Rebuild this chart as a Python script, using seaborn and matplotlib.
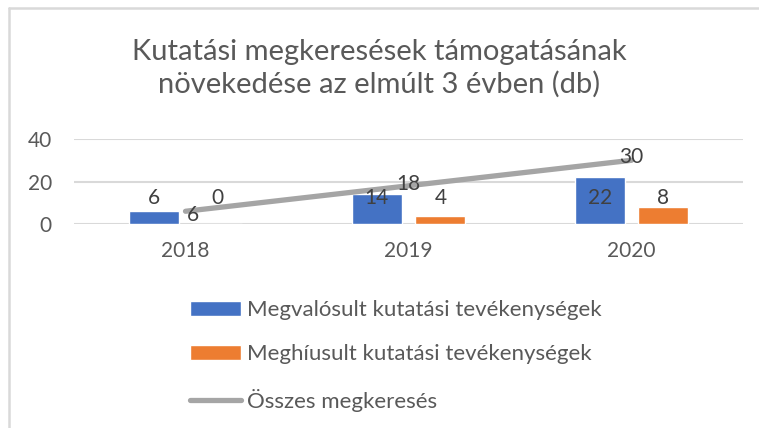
import numpy as np
import pandas as pd
import matplotlib
matplotlib.use('Agg')
import matplotlib.pyplot as plt
import seaborn as sns

# adatok
years = ['2018', '2019', '2020']
megvalosult = [6, 14, 22]
meghiusult = [0, 4, 8]
osszes = [6, 18, 30]
series_names = ['Megvalósult kutatási tevékenységek', 'Meghíusult kutatási tevékenységek']
line_name = 'Összes megkeresés'
title = 'Kutatási megkeresések támogatásának\nnövekedése az elmúlt 3 évben (db)'

df = pd.DataFrame({
    'ev': years * 2,
    'db': megvalosult + meghiusult,
    'sorozat': [series_names[0]] * 3 + [series_names[1]] * 3,
})

sns.set_style('white')
plt.rcParams['font.family'] = ['Lato', 'DejaVu Sans']
txt = '#595959'

fig = plt.figure(figsize=(7.59, 4.28), dpi=100)
ax = fig.add_axes([0.0975, 0.4766, 0.8815, 0.1986])

sns.barplot(data=df, x='ev', y='db', hue='sorozat', palette=['#4472C4', '#ED7D31'],
            width=0.572, gap=0.217, saturation=1, errorbar=None, ax=ax, legend=False)
sns.lineplot(x=np.arange(len(years)), y=osszes, color='#A5A5A5', lw=3.8,
             ax=ax, label=line_name, legend=False)

ax.set_xlim(-0.5, 2.5)
ax.set_ylim(0, 40)
ax.set_yticks([0, 20, 40])
ax.set_xlabel('')
ax.set_ylabel('')
ax.grid(axis='y', color='#D9D9D9', lw=1.5)
ax.set_axisbelow(True)
for s in ax.spines.values():
    s.set_visible(False)
ax.tick_params(axis='y', length=0, pad=16, labelsize=15, labelcolor=txt)
ax.tick_params(axis='x', length=0, pad=12, labelsize=15, labelcolor=txt)

# oszlop feliratok (egy magasságban, mint az eredetin)
for cont in ax.containers:
    for rect, v in zip(cont, cont.datavalues):
        ax.text(rect.get_x() + rect.get_width() / 2, 0.31, f'{v:g}',
                transform=ax.get_xaxis_transform(), ha='center', va='center',
                fontsize=15, color='#404040')

# vonal feliratok
offs = [(5, -3), (0, 1), (0, 2)]
for i, v in enumerate(osszes):
    ax.annotate(str(v), (i, v), xytext=offs[i], textcoords='offset points',
                ha='center', va='center', fontsize=15, color='#404040')

fig.suptitle(title, y=0.91, fontsize=21, color=txt, linespacing=1.3)

h = [c.patches[0] for c in ax.containers] + [ax.lines[-1]]
leg = fig.legend(h, series_names + [line_name], loc='upper left',
                 bbox_to_anchor=(0.238, 0.32), frameon=False, fontsize=16,
                 labelcolor=txt, handlelength=2.3, handleheight=0.65,
                 handletextpad=0.3, labelspacing=1.1, borderaxespad=0)

# keret (felső és bal)
fig.add_artist(plt.Line2D([0.012, 1], [0.982, 0.982], color='#D9D9D9', lw=1.8,
                          transform=fig.transFigure))
fig.add_artist(plt.Line2D([0.0125, 0.0125], [0, 0.982], color='#D9D9D9', lw=1.8,
                          transform=fig.transFigure))

fig.savefig('out.png', dpi=100)
